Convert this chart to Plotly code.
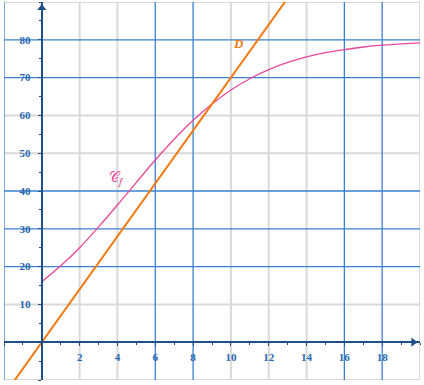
import plotly.graph_objects as go

# Data
cf_x = [0, 1, 2, 3, 4, 5, 6, 7, 8, 9, 10, 11, 12, 13, 14, 15, 16, 17, 18, 19, 20]
cf_y = [16.0, 20.2, 25.0, 30.5, 36.3, 42.3, 48.2, 53.7, 58.7, 63.0, 66.7, 69.7, 72.1,
        74.0, 75.5, 76.6, 77.4, 78.1, 78.6, 78.9, 79.2]
d_x = [-2, 0, 10, 14]
d_y = [-14, 0, 70, 98]

x_ticks = [-2, 2, 4, 6, 8, 10, 12, 14, 16, 18]
x_labels = ["−2", "2", "4", "6", "8", "10", "12", "14", "16", "18"]
y_ticks = [-10, 10, 20, 30, 40, 50, 60, 70, 80]
y_labels = ["−10", "10", "20", "30", "40", "50", "60", "70", "80"]

grid_x_gray = [2, 4, 10, 12, 14, 20]
grid_x_blue = [-2, 6, 8, 16, 18]
grid_y_gray = [-10, 10, 50, 60, 90]
grid_y_blue = [20, 30, 40, 70, 80]

X_RANGE = [-2, 20]
Y_RANGE = [-10, 90]

AXIS_C = "#1d4f88"
LABEL_C = "#2866ad"
GRAY = "#d9d9d9"
BLUE = "#3a80d2"
ORANGE = "#f27a10"
PINK = "#e8479b"

fig = go.Figure()

fig.add_trace(go.Scatter(x=cf_x, y=cf_y, mode="lines",
                         line=dict(color=PINK, width=1.3, shape="spline"),
                         hoverinfo="skip", showlegend=False))
fig.add_trace(go.Scatter(x=d_x, y=d_y, mode="lines",
                         line=dict(color=ORANGE, width=2),
                         hoverinfo="skip", showlegend=False))

# axis arrowheads
fig.add_trace(go.Scatter(x=[0], y=[Y_RANGE[1] - 1.6], mode="markers",
                         marker=dict(symbol="triangle-up", size=8, color=AXIS_C),
                         cliponaxis=False, hoverinfo="skip", showlegend=False))
fig.add_trace(go.Scatter(x=[X_RANGE[1] - 0.35], y=[0], mode="markers",
                         marker=dict(symbol="triangle-right", size=8, color=AXIS_C),
                         cliponaxis=False, hoverinfo="skip", showlegend=False))

shapes = []
for v in grid_x_gray:
    shapes.append(dict(type="line", xref="x", yref="y", x0=v, x1=v, y0=Y_RANGE[0], y1=Y_RANGE[1],
                       line=dict(color=GRAY, width=2), layer="below"))
for v in grid_y_gray:
    shapes.append(dict(type="line", xref="x", yref="y", y0=v, y1=v, x0=X_RANGE[0], x1=X_RANGE[1],
                       line=dict(color=GRAY, width=2), layer="below"))
for v in grid_x_blue:
    shapes.append(dict(type="line", xref="x", yref="y", x0=v, x1=v, y0=Y_RANGE[0], y1=Y_RANGE[1],
                       line=dict(color=BLUE, width=1.3), layer="below"))
for v in grid_y_blue:
    shapes.append(dict(type="line", xref="x", yref="y", y0=v, y1=v, x0=X_RANGE[0], x1=X_RANGE[1],
                       line=dict(color=BLUE, width=1.3), layer="below"))

annotations = [
    dict(x=10.4, y=79, xref="x", yref="y", text="<i>D</i>", showarrow=False,
         font=dict(family="Liberation Serif", size=13, color=ORANGE, weight="bold")),
    dict(x=3.95, y=43.6, xref="x", yref="y", text="𝒞<sub><i>f</i></sub>", showarrow=False,
         font=dict(family="Noto Sans, DejaVu Sans", size=14, color=PINK)),
]

tick_font = dict(family="Liberation Serif", size=11, color=LABEL_C, weight="bold")

fig.update_layout(
    width=424, height=385,
    margin=dict(l=4, r=4, t=2, b=5, autoexpand=False),
    paper_bgcolor="white", plot_bgcolor="white",
    shapes=shapes, annotations=annotations,
    xaxis=dict(range=X_RANGE, showgrid=False, zeroline=False, automargin=False,
               anchor="free", position=(0 - Y_RANGE[0]) / (Y_RANGE[1] - Y_RANGE[0]),
               showline=True, linecolor=AXIS_C, linewidth=2,
               tickmode="array", tickvals=x_ticks, ticktext=x_labels,
               ticks="outside", ticklen=3, tickcolor=AXIS_C, tickwidth=1,
               minor=dict(dtick=1, tick0=0, ticks="outside", ticklen=2, tickcolor=AXIS_C),
               tickfont=tick_font, ticklabelstandoff=2, fixedrange=True),
    yaxis=dict(range=Y_RANGE, showgrid=False, zeroline=False, automargin=False,
               anchor="free", position=(0 - X_RANGE[0]) / (X_RANGE[1] - X_RANGE[0]),
               showline=True, linecolor=AXIS_C, linewidth=2,
               tickmode="array", tickvals=y_ticks, ticktext=y_labels,
               ticks="outside", ticklen=3, tickcolor=AXIS_C, tickwidth=1,
               minor=dict(dtick=5, tick0=0, ticks="outside", ticklen=2, tickcolor=AXIS_C),
               tickfont=tick_font, ticklabelstandoff=5, fixedrange=True),
)

fig.write_html("out.html", config={"displayModeBar": False},
               post_script="document.body.style.margin='0px';")
